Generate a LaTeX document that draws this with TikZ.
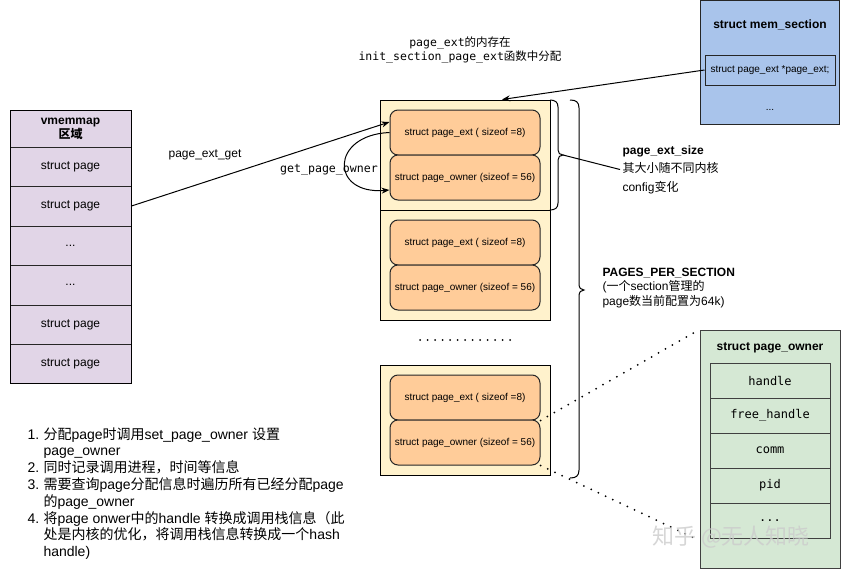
\documentclass[tikz,border=0pt]{standalone}
\usepackage{fontspec}
\setmainfont{Liberation Sans}
\setmonofont{DejaVu Sans Mono}
\newfontfamily\cjk{Noto Sans CJK SC}
\usetikzlibrary{arrows.meta,calc}
\definecolor{vpurple}{HTML}{E1D5E7}
\definecolor{secyellow}{HTML}{FFF2CC}
\definecolor{entryorange}{HTML}{FFCC99}
\definecolor{msblue}{HTML}{A9C4EB}
\definecolor{pogreen}{HTML}{D5E8D4}
\newcommand\zh[1]{{\cjk #1}}
\newcommand\fs[2]{\fontsize{#1}{#2}\selectfont}
\tikzset{
  vcell/.style={draw=black!85, fill=vpurple, minimum width=121pt, inner sep=0pt, font=\fs{12}{14}},
  secbox/.style={draw=black, fill=secyellow, minimum width=170pt, minimum height=110pt},
  entry/.style={draw=black!85, fill=entryorange, rounded corners=8pt, minimum width=150pt, minimum height=45pt, inner sep=0pt, font=\fs{10}{12}},
  porow/.style={draw=black!75, fill=pogreen, minimum width=120pt, minimum height=35pt, inner sep=0pt, font=\ttfamily\fs{12}{14}},
  lbl/.style={inner sep=0pt, font=\fs{12}{14}},
  arr/.style={-{Stealth[length=8pt,width=6pt]}},
  dotcon/.style={line width=2pt, line cap=round, dash pattern=on 0pt off 8pt},
  dotrow/.style={line width=2pt, line cap=round, dash pattern=on 0pt off 7.5pt}
}
\begin{document}
\begin{tikzpicture}[x=1pt,y=-1pt,line width=1pt]
\useasboundingbox (0,0) rectangle (841,570);
\fill[white] (0,0) rectangle (841,570);

% vmemmap column
\node[vcell, minimum height=37pt, font=\bfseries\fs{12}{14}, align=center] (vh) at (70.5,128.5) {vmemmap\\\zh{区域}};
\node[vcell, minimum height=39pt] (v1) at (70.5,166.5) {struct page};
\node[vcell, minimum height=40pt] (v2) at (70.5,206) {struct page};
\node[vcell, minimum height=39pt] (v3) at (70.5,245.5) {...};
\node[vcell, minimum height=40pt] (v4) at (70.5,285) {...};
\node[vcell, minimum height=39pt] (v5) at (70.5,324.5) {struct page};
\node[vcell, minimum height=39pt] (v6) at (70.5,363.5) {struct page};
\draw[black] (10,110) rectangle (131,383);

% section containers
\node[secbox] (c1) at (465,155) {};
\node[secbox] (c2) at (465,265) {};
\node[secbox] (c3) at (465,420) {};
\node[entry] (ext1) at (465,132.5) {struct page\_ext ( sizeof =8)};
\node[entry] (own1) at (465,177.5) {struct page\_owner (sizeof = 56)};
\node[entry] (ext2) at (465,242.5) {struct page\_ext ( sizeof =8)};
\node[entry] (own2) at (465,287.5) {struct page\_owner (sizeof = 56)};
\node[entry] (ext3) at (465,397.5) {struct page\_ext ( sizeof =8)};
\node[entry] (own3) at (465,442.5) {struct page\_owner (sizeof = 56)};

% dots between containers
\coordinate (d1) at (420,340);
\coordinate (d2) at (511,340);
\draw[dotrow] (d1) -- (d2);

% mem_section
\node[draw=black!85, fill=msblue, minimum width=139pt, minimum height=124pt] (ms) at (770,62.5) {};
\node[font=\bfseries\fs{12}{14}, inner sep=0pt] (mst) at (770,25) {struct mem\_section};
\node[draw=black!85, minimum width=130pt, minimum height=30pt, inner sep=0pt, font=\fs{10}{12}] (msp) at (770,70) {struct page\_ext *page\_ext;};
\node[font=\fs{10}{12}, inner sep=0pt] (msd) at (770,110) {...};
\draw[arr] (msp.west) -- ([xshift=37pt]c1.north);

% title
\node[align=center, font=\ttfamily\fs{11.5}{14}, inner sep=0pt] (title) at (460,50) {page\_ext\zh{的内存在}\\init\_section\_page\_ext\zh{函数中分配}};

% page_ext_get arrow
\node[lbl] (peg) at (205,155) {page\_ext\_get};
\draw[arr] (v2.east) -- ([yshift=10.5pt]ext1.west);

% get_page_owner curve
\node[inner sep=0pt, font=\ttfamily\fs{11.6}{14}] (gpo) at (329,170) {get\_page\_owner};
\draw[arr] (ext1.west) .. controls (330,135) and (330,195) .. ([yshift=-12.5pt]own1.west);

% small brace
\draw (550,100) .. controls (555,100) and (558,102) .. (558,107) -- (558,150) .. controls (558,153) and (560,155) .. (563,155) .. controls (560,155) and (558,157) .. (558,160) -- (558,203) .. controls (558,208) and (555,210) .. (550,210);
\coordinate (bt1) at (563,155);
\node[anchor=west, align=left, font=\fs{12}{18.5}, inner sep=0pt] (pes) at (622,169.5) {\textbf{page\_ext\_size}\\\zh{其大小随不同内核}\\config\zh{变化}};
\draw (bt1) -- ([xshift=-2pt]pes.west);

% big brace
\draw (570,100) .. controls (576,100) and (579,102) .. (579,108) -- (579,284) .. controls (579,288) and (581,290) .. (584,290) .. controls (581,290) and (579,292) .. (579,296) -- (579,470) .. controls (579,476) and (576,478) .. (570,478);
\node[anchor=west, align=left, font=\fs{12}{14.5}, inner sep=0pt] (pps) at (602,288) {\textbf{PAGES\_PER\_SECTION}\\(\zh{一个}section\zh{管理的}\\page\zh{数当前配置为}64k)};

% page_owner struct
\node[draw=black!75, fill=pogreen, minimum width=140pt, minimum height=238pt] (po) at (770,449) {};
\node[font=\bfseries\fs{12}{14}, inner sep=0pt] (pot) at (770,348) {struct page\_owner};
\node[porow] (r1) at (770,380.5) {handle};
\node[porow] (r2) at (770,415.5) {free\_handle};
\node[porow] (r3) at (770,450.5) {comm};
\node[porow] (r4) at (770,485.5) {pid};
\node[porow] (r5) at (770,520.5) {...};

% dotted connectors
\draw[dotcon] (ext3.south east) -- (po.north west);
\draw[dotcon] (own3.south east) -- ($(po.south west)+(0,-28)$);

% notes
\node[anchor=north west, align=left, font=\fs{14}{16.8}, inner sep=0pt] (notes) at (27,427) {%
\makebox[16pt][l]{1.}\zh{分配}page\zh{时调用}set\_page\_owner \zh{设置}\\
\hspace*{16pt}page\_owner\\
\makebox[16pt][l]{2.}\zh{同时记录调用进程，时间等信息}\\
\makebox[16pt][l]{3.}\zh{需要查询}page\zh{分配信息时遍历所有已经分配}page\\
\hspace*{16pt}\zh{的}page\_owner\\
\makebox[16pt][l]{4.}\zh{将}page onwer\zh{中的}handle \zh{转换成调用栈信息（此}\\
\hspace*{16pt}\zh{处是内核的优化，将调用栈信息转换成一个}hash\\
\hspace*{16pt}handle)};

% watermark
\node[font=\cjk\fs{22}{24}, text=gray!40, opacity=0.8, inner sep=0pt] (wm) at (731,537) {知乎 @无人知晓};
\end{tikzpicture}
\end{document}
